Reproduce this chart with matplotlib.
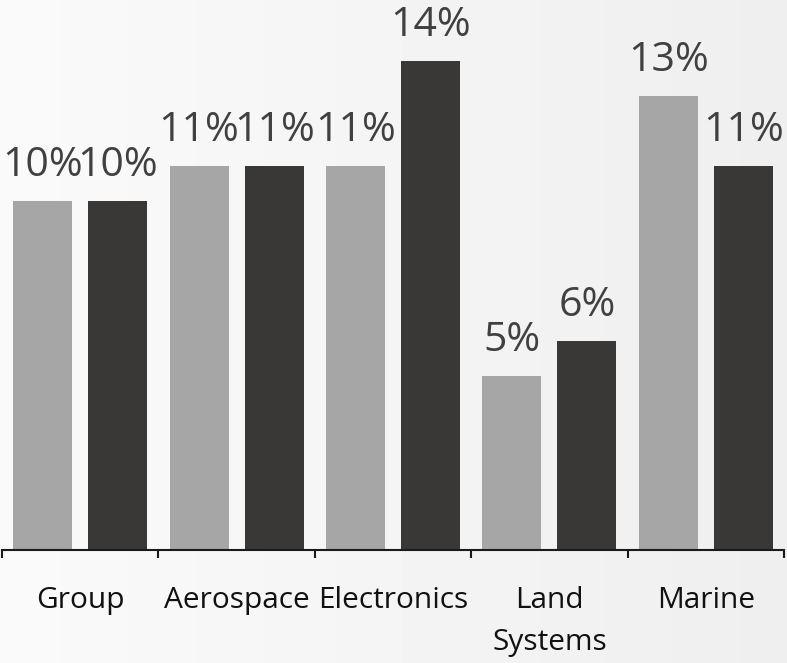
import numpy as np
import matplotlib.pyplot as plt

# growth by division, two periods
categories = ["Group", "Aerospace", "Electronics", "Land\nSystems", "Marine"]
prev_year = [10, 11, 11, 5, 13]
this_year = [10, 11, 14, 6, 11]

plt.rcParams['font.family'] = ['Open Sans', 'DejaVu Sans']

W, H = 787, 663
fig = plt.figure(figsize=(W / 100, H / 100), dpi=100)

# faint left-to-right grey shading behind everything
bg = fig.add_axes([0, 0, 1, 1])
grad = np.linspace(0.98, 0.935, 256).reshape(1, -1)
bg.imshow(grad, aspect='auto', cmap='gray', vmin=0, vmax=1, extent=[0, 1, 0, 1])
bg.axis('off')

base_px = 550
ax = fig.add_axes([2 / W, (H - base_px) / H, (784 - 2) / W, base_px / H])
ax.patch.set_alpha(0)
px_per_pct = 34.9
ax.set_ylim(0, base_px / px_per_pct)
ax.set_xlim(-0.5, len(categories) - 0.5)

x = np.arange(len(categories))
off = 0.24
w = 0.377
ax.bar(x - off, prev_year, w, color='#a6a6a6')
ax.bar(x + off, this_year, w, color='#3a3836')

for xs, vals in ((x - off, prev_year), (x + off, this_year)):
    for xi, v in zip(xs, vals):
        ax.annotate(f"{v}%", (xi, v), xytext=(0, 18), textcoords='offset points',
                    ha='center', va='baseline', fontsize=29.5, color='#404040')

for s in ('top', 'right', 'left'):
    ax.spines[s].set_visible(False)
ax.spines['bottom'].set_color('#1a1a1a')
ax.spines['bottom'].set_linewidth(1.5)
ax.set_yticks([])

ax.set_xticks(x)
ax.set_xticklabels(categories, fontsize=21.5, color='#111111', linespacing=1.6)
ax.tick_params(axis='x', which='major', length=0, pad=26)
ax.set_xticks(np.arange(len(categories) + 1) - 0.5, minor=True)
ax.tick_params(axis='x', which='minor', length=6, width=1.5, color='#1a1a1a', direction='out')

fig.savefig("out.png", dpi=100)
